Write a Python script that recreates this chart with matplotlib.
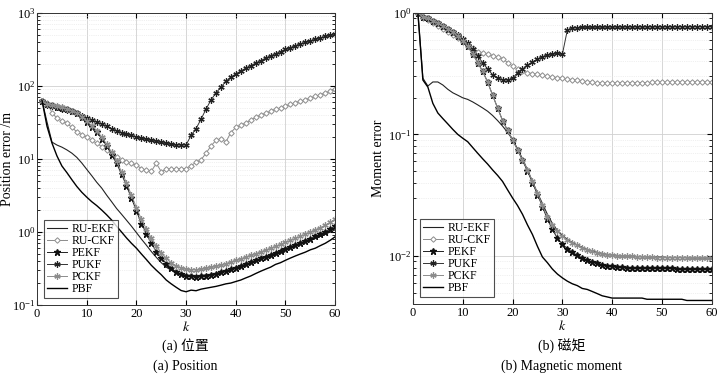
import matplotlib
matplotlib.use('Agg')
import matplotlib.pyplot as plt
from matplotlib.ticker import LogLocator, NullFormatter

plt.rcParams['font.family'] = ['Liberation Serif', 'Noto Sans CJK SC']
plt.rcParams['mathtext.fontset'] = 'stix'

k = list(range(1, 61))

# (a) 位置 -- position error
pos_ru_ekf = [63, 32, 17, 15.5, 14.5, 13.3, 12, 10.5, 8.8, 7.2,
              5.9, 4.8, 4.0, 3.2, 2.6, 2.1, 1.75, 1.45, 1.2, 0.98,
              0.8, 0.66, 0.54, 0.45, 0.38, 0.33, 0.3, 0.28, 0.265, 0.257,
              0.253, 0.252, 0.254, 0.258, 0.263, 0.27, 0.28, 0.29, 0.305, 0.32,
              0.34, 0.355, 0.375, 0.4, 0.425, 0.45, 0.48, 0.51, 0.54, 0.57,
              0.6, 0.64, 0.68, 0.72, 0.77, 0.82, 0.87, 0.93, 1.0, 1.07]
pos_ru_ckf = [63, 59, 43, 36, 33, 31, 27, 23.5, 21.5, 20,
              18, 16.4, 14.8, 13.2, 12, 10.7, 9.8, 9.2, 8.7, 8.2,
              7.4, 7.0, 6.8, 8.7, 6.7, 7.2, 7.3, 7.3, 7.4, 7.4,
              8.1, 9.0, 9.7, 12, 15, 18, 19, 17, 23, 27,
              29, 31, 34, 37, 40, 42, 45, 48, 50, 53,
              56, 59, 62, 65, 68, 72, 76, 80, 85, 90]
pos_pekf = [63, 56, 54, 52, 50, 48, 45, 42, 37, 32,
            27.5, 23.5, 19, 15, 11.5, 8.7, 6.2, 4.3, 2.9, 1.95,
            1.3, 0.95, 0.7, 0.54, 0.44, 0.37, 0.32, 0.286, 0.265, 0.252,
            0.246, 0.244, 0.246, 0.252, 0.26, 0.27, 0.28, 0.295, 0.31, 0.325,
            0.345, 0.365, 0.385, 0.41, 0.435, 0.46, 0.49, 0.52, 0.555, 0.59,
            0.63, 0.67, 0.71, 0.76, 0.81, 0.87, 0.93, 1.0, 1.1, 1.22]
pos_pukf = [63, 55, 53, 51, 49, 47, 45, 42, 39, 36,
            34, 32, 30, 28, 26, 24.5, 23, 22, 21, 20,
            19.3, 18.6, 18, 17.4, 16.8, 16.3, 15.9, 15.6, 15.5, 15.6,
            21, 26, 35, 48, 64, 80, 96, 115, 132, 146,
            160, 175, 190, 205, 222, 240, 258, 276, 295, 315,
            335, 355, 375, 395, 415, 435, 455, 475, 497, 520]
pos_pckf = [63, 57, 55, 53, 51, 49, 46, 43, 38, 33,
            28.5, 24.5, 20, 16, 12.3, 9.3, 6.7, 4.7, 3.2, 2.15,
            1.5, 1.1, 0.82, 0.64, 0.52, 0.44, 0.38, 0.345, 0.322, 0.31,
            0.305, 0.305, 0.31, 0.318, 0.328, 0.34, 0.355, 0.37, 0.39, 0.41,
            0.43, 0.455, 0.48, 0.505, 0.535, 0.565, 0.6, 0.635, 0.675, 0.72,
            0.765, 0.815, 0.87, 0.93, 1.0, 1.07, 1.15, 1.24, 1.35, 1.5]
pos_pbf = [63, 28, 16.5, 11, 8, 6.5, 5.2, 4.2, 3.5, 3.0,
           2.6, 2.3, 2.0, 1.72, 1.46, 1.2, 1.0, 0.83, 0.7, 0.6,
           0.5, 0.42, 0.35, 0.3, 0.26, 0.22, 0.195, 0.175, 0.158, 0.152,
           0.16, 0.157, 0.165, 0.17, 0.175, 0.18, 0.187, 0.195, 0.2, 0.21,
           0.22, 0.235, 0.25, 0.27, 0.29, 0.31, 0.33, 0.36, 0.38, 0.41,
           0.44, 0.47, 0.5, 0.53, 0.57, 0.6, 0.65, 0.7, 0.77, 0.86]

# (b) 磁矩 -- moment error
mom_ru_ekf = [1.0, 0.29, 0.25, 0.27, 0.27, 0.255, 0.235, 0.22, 0.21, 0.2,
              0.194, 0.185, 0.175, 0.165, 0.155, 0.143, 0.13, 0.117, 0.104, 0.091,
              0.076, 0.063, 0.051, 0.041, 0.033, 0.027, 0.022, 0.0185, 0.0162, 0.0148,
              0.0137, 0.0129, 0.0123, 0.0118, 0.0113, 0.011, 0.0107, 0.0105, 0.0103, 0.0102,
              0.0101, 0.01, 0.01, 0.0099, 0.0099, 0.0099, 0.0098, 0.0098, 0.0098, 0.0098,
              0.0097, 0.0097, 0.0097, 0.0097, 0.0097, 0.0096, 0.0096, 0.0096, 0.0096, 0.0096]
mom_ru_ckf = [1.0, 0.9, 0.87, 0.82, 0.78, 0.74, 0.7, 0.66, 0.62, 0.58,
              0.54, 0.51, 0.48, 0.47, 0.455, 0.445, 0.435, 0.42, 0.39, 0.365,
              0.345, 0.33, 0.322, 0.316, 0.312, 0.308, 0.302, 0.297, 0.293, 0.29,
              0.286, 0.282, 0.278, 0.274, 0.271, 0.268, 0.266, 0.265, 0.265, 0.265,
              0.265, 0.266, 0.266, 0.266, 0.267, 0.267, 0.267, 0.268, 0.268, 0.268,
              0.268, 0.269, 0.269, 0.269, 0.269, 0.27, 0.27, 0.27, 0.27, 0.27]
mom_pekf = [1.0, 0.93, 0.9, 0.86, 0.82, 0.78, 0.74, 0.69, 0.64, 0.59,
            0.53, 0.46, 0.39, 0.33, 0.27, 0.21, 0.165, 0.13, 0.108, 0.09,
            0.075, 0.061, 0.05, 0.04, 0.032, 0.0255, 0.02, 0.0165, 0.014, 0.0125,
            0.0115, 0.0107, 0.0101, 0.0096, 0.0092, 0.0089, 0.0087, 0.0085, 0.0083, 0.0082,
            0.0081, 0.0081, 0.008, 0.008, 0.008, 0.008, 0.0079, 0.0079, 0.0079, 0.0079,
            0.0079, 0.0079, 0.0078, 0.0078, 0.0078, 0.0078, 0.0078, 0.0078, 0.0078, 0.0078]
mom_pukf = [1.0, 0.93, 0.9, 0.86, 0.82, 0.78, 0.74, 0.7, 0.66, 0.61,
            0.56, 0.5, 0.44, 0.39, 0.345, 0.31, 0.29, 0.282, 0.28, 0.29,
            0.32, 0.345, 0.37, 0.395, 0.415, 0.435, 0.45, 0.46, 0.465, 0.455,
            0.72, 0.75, 0.755, 0.758, 0.76, 0.76, 0.762, 0.762, 0.764, 0.764,
            0.765, 0.765, 0.766, 0.766, 0.767, 0.767, 0.767, 0.768, 0.768, 0.768,
            0.768, 0.769, 0.769, 0.769, 0.769, 0.77, 0.77, 0.77, 0.77, 0.77]
mom_pckf = [1.0, 0.93, 0.9, 0.86, 0.82, 0.78, 0.74, 0.69, 0.64, 0.59,
            0.53, 0.46, 0.39, 0.33, 0.27, 0.21, 0.165, 0.13, 0.108, 0.09,
            0.075, 0.062, 0.051, 0.041, 0.033, 0.026, 0.021, 0.018, 0.016, 0.0145,
            0.0135, 0.0128, 0.0122, 0.0117, 0.0112, 0.0109, 0.0106, 0.0104, 0.0102, 0.0101,
            0.01, 0.0099, 0.0099, 0.0099, 0.0098, 0.0098, 0.0098, 0.0098, 0.0097, 0.0097,
            0.0097, 0.0097, 0.0097, 0.0097, 0.0096, 0.0096, 0.0096, 0.0096, 0.0096, 0.0096]
mom_pbf = [1.0, 0.28, 0.245, 0.18, 0.15, 0.135, 0.122, 0.11, 0.1, 0.093,
           0.087, 0.078, 0.07, 0.063, 0.057, 0.051, 0.046, 0.041, 0.035, 0.03,
           0.026, 0.022, 0.018, 0.015, 0.012, 0.0098, 0.0088, 0.0078, 0.0071, 0.0066,
           0.0062, 0.0059, 0.0057, 0.0054, 0.0053, 0.0051, 0.0049, 0.0047, 0.0046, 0.0045,
           0.0045, 0.0045, 0.0045, 0.0045, 0.0045, 0.0045, 0.0044, 0.0044, 0.0044, 0.0044,
           0.0044, 0.0044, 0.0044, 0.0044, 0.0043, 0.0043, 0.0043, 0.0043, 0.0043, 0.0043]

names = ['RU-EKF', 'RU-CKF', 'PEKF', 'PUKF', 'PCKF', 'PBF']
styles = [
    dict(color='#222222', lw=0.8, marker=None),
    dict(color='#8c8c8c', lw=0.7, marker='D', ms=2.8, mfc='white', mec='#8c8c8c', mew=0.7),
    dict(color='#222222', lw=0.7, marker='*', ms=4.5, mfc='#111111', mec='#111111'),
    dict(color='#333333', lw=0.7, marker=(6, 2, 0), ms=4.5, mec='#222222', mew=0.9),
    dict(color='#8c8c8c', lw=0.7, marker=(6, 2, 0), ms=4.5, mec='#8c8c8c', mew=0.9),
    dict(color='black', lw=1.0, marker=None),
]

fig = plt.figure(figsize=(7.27, 3.78), dpi=100)
ax1 = fig.add_axes([0.051, 0.193, 0.41, 0.773])
ax2 = fig.add_axes([0.568, 0.195, 0.411, 0.771])


def draw(ax, series, ylim, ylabel, label_x):
    for name, y, st in zip(names, series, styles):
        ax.plot(k, y, label=name, **st)
    ax.set_yscale('log')
    ax.set_xlim(0, 60)
    ax.set_ylim(*ylim)
    ax.set_xticks(range(0, 61, 10))
    ax.yaxis.set_minor_locator(LogLocator(base=10, subs=range(2, 10)))
    ax.yaxis.set_minor_formatter(NullFormatter())
    ax.grid(True, which='major', color='#d0d0d0', lw=0.6)
    ax.grid(True, which='minor', axis='y', color='#e2e2e2', lw=0.5, ls=':')
    ax.tick_params(which='both', direction='in', top=True, right=True, labelsize=9, pad=2)
    ax.tick_params(axis='y', pad=1)
    ax.tick_params(which='major', length=3.5)
    ax.tick_params(which='minor', length=2)
    for s in ax.spines.values():
        s.set_color('#333333')
        s.set_linewidth(0.7)
    ax.set_xlabel('$k$', fontsize=10, labelpad=0)
    ax.set_ylabel(ylabel, fontsize=10)
    ax.yaxis.set_label_coords(label_x, 0.5)
    leg = ax.legend(loc='lower left', fontsize=8.5, frameon=True, fancybox=False,
                    handlelength=1.7, handletextpad=0.4, labelspacing=0.0,
                    borderpad=0.25, borderaxespad=0.6)
    leg.get_frame().set_edgecolor('#222222')
    leg.get_frame().set_linewidth(0.8)


draw(ax1, [pos_ru_ekf, pos_ru_ckf, pos_pekf, pos_pukf, pos_pckf, pos_pbf],
     (0.1, 1000), 'Position error /m', -0.077)
draw(ax2, [mom_ru_ekf, mom_ru_ckf, mom_pekf, mom_pukf, mom_pckf, mom_pbf],
     (0.004, 1), 'Moment error', -0.094)

fig.text(0.255, 0.085, '(a) 位置', ha='center', va='center', fontsize=10)
fig.text(0.255, 0.032, '(a) Position', ha='center', va='center', fontsize=10)
fig.text(0.773, 0.085, '(b) 磁矩', ha='center', va='center', fontsize=10)
fig.text(0.773, 0.032, '(b) Magnetic moment', ha='center', va='center', fontsize=10)

fig.savefig('out.png', dpi=100)
